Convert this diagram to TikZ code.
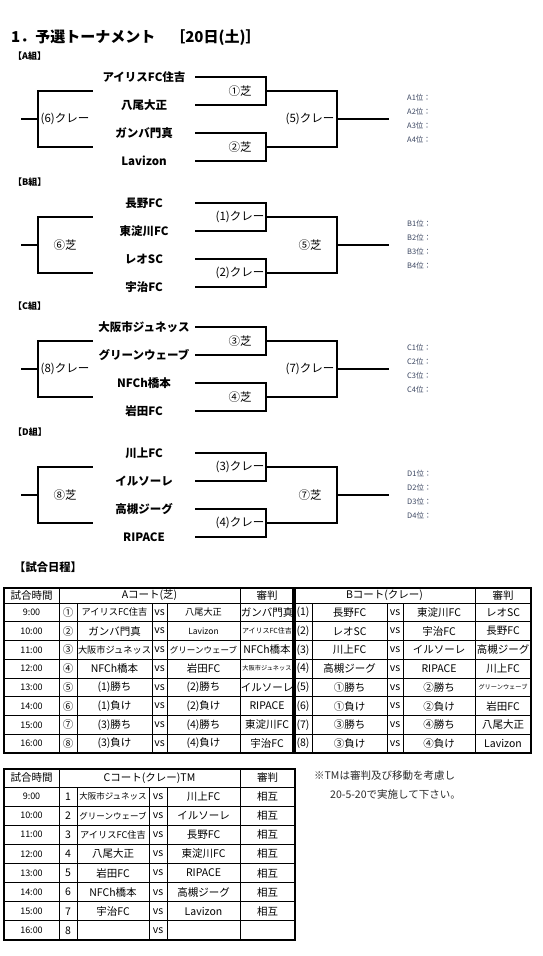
\documentclass[tikz,border=0pt]{standalone}
\usepackage{fontspec}
\setmainfont{Noto Sans CJK JP}
\usetikzlibrary{positioning}
\definecolor{rankgray}{HTML}{3A4560}
\definecolor{notegray}{HTML}{2A2A2A}
\newcommand{\fsnine}{\fontsize{9.2}{10}\selectfont}
\newcommand{\fseight}{\fontsize{8.5}{9}\selectfont}
\newcommand{\fsseven}{\fontsize{7}{8}\selectfont}
\newcommand{\fssix}{\fontsize{6.2}{7}\selectfont}
\tikzset{
  bline/.style={line width=2pt, line cap=rect},
  team/.style={font=\bfseries\fontsize{11.5}{12}\selectfont, inner sep=0pt},
  rnd/.style={font=\fontsize{11.5}{12}\selectfont, inner sep=0pt},
  rank/.style={font=\fontsize{7.5}{8}\selectfont, text=rankgray, inner sep=0pt, anchor=west},
  grouphead/.style={font=\bfseries\fontsize{9}{9}\selectfont, inner sep=0pt, anchor=west},
  maintitle/.style={font=\bfseries\fontsize{15}{15}\selectfont, inner sep=0pt, anchor=west},
  cell/.style={font=\fontsize{10.5}{11}\selectfont, inner sep=0pt},
  timecell/.style={font=\fontsize{9}{10}\selectfont, inner sep=0pt},
  gridline/.style={line width=0.9pt},
  frame/.style={line width=2.4pt},
  divline/.style={line width=4pt}
}
% one group of the bracket: letter, four teams, four round labels
\newcommand{\bracketgroup}[9]{%
  \node[grouphead] (#1head) at (13,56) {【#1組】};
  \node[team] (#1t1) at (144,77) {#2};
  \node[team] (#1t2) at (144,105) {#3};
  \node[team] (#1t3) at (144,133) {#4};
  \node[team] (#1t4) at (144,161) {#5};
  \coordinate (#1a1) at (196,77);
  \coordinate (#1a2) at (196,105);
  \coordinate (#1a3) at (196,133);
  \coordinate (#1a4) at (196,161);
  \coordinate (#1m1) at (266,91);
  \coordinate (#1m2) at (266,147);
  \coordinate (#1s) at (337,119);
  \coordinate (#1o) at (388,119);
  \coordinate (#1l1) at (92,91);
  \coordinate (#1l2) at (92,147);
  \coordinate (#1lv) at (38,119);
  \coordinate (#1lo) at (22,119);
  \draw[bline] (#1a1) -| (#1m1) |- (#1a2);
  \draw[bline] (#1a3) -| (#1m2) |- (#1a4);
  \draw[bline] (#1m1) -| (#1s) |- (#1m2);
  \draw[bline] (#1s) -- (#1o);
  \draw[bline] (#1l1) -| (#1lv) |- (#1l2);
  \draw[bline] (#1lo) -- (#1lv);
  \node[rnd] (#1r1) at (240,91) {#6};
  \node[rnd] (#1r2) at (240,147) {#7};
  \node[rnd] (#1r3) at (65,119) {#8};
  \node[rnd] (#1r4) at (310,119) {#9};
  \foreach \k in {1,...,4}
    \node[rank] (#1p\k) at (407,84+14*\k) {#1\k{}位：};
}

\begin{document}
\begin{tikzpicture}[x=1pt, y=-1pt]
\useasboundingbox (0,0) rectangle (542,956);

\node[maintitle] (title) at (11,38) {1．予選トーナメント　［20日(土)］};

\bracketgroup{A}{アイリスFC住吉}{八尾大正}{ガンバ門真}{Lavizon}{①芝}{②芝}{(6)クレー}{(5)クレー}
\begin{scope}[yshift=-126pt]
\bracketgroup{B}{長野FC}{東淀川FC}{レオSC}{宇治FC}{(1)クレー}{(2)クレー}{⑥芝}{⑤芝}
\end{scope}
\begin{scope}[yshift=-250pt]
\bracketgroup{C}{大阪市ジュネッス}{グリーンウェーブ}{NFCh橋本}{岩田FC}{③芝}{④芝}{(8)クレー}{(7)クレー}
\end{scope}
\begin{scope}[yshift=-376pt]
\bracketgroup{D}{川上FC}{イルソーレ}{高槻ジーグ}{RIPACE}{(3)クレー}{(4)クレー}{⑧芝}{⑦芝}
\end{scope}

\node[maintitle, font=\bfseries\fontsize{11.3}{12}\selectfont] (sched) at (14,567) {【試合日程】};

% A / B courts
\foreach \k in {1,...,7}
  \draw[gridline] (4,603+18.75*\k) -- (531,603+18.75*\k);
\draw[gridline] (4,603) -- (531,603);
\foreach \x in {59,240,475}
  \draw[gridline] (\x,588) -- (\x,753);
\foreach \x in {77,152,167,312,387,403}
  \draw[gridline] (\x,603) -- (\x,753);
\draw[divline] (294,588) -- (294,753);
\draw[frame] (4,588) rectangle (531,753);

\node[cell] (ah0) at (31.5,595.5) {試合時間};
\node[cell] (ah1) at (149.5,595.5) {Aコート(芝)};
\node[cell] (ah2) at (267,595.5) {審判};
\node[cell] (bh1) at (384.5,595.5) {Bコート(クレー)};
\node[cell] (bh2) at (503,595.5) {審判};

\foreach \tm/\na/\pa/\qa/\ja/\nb/\pb/\qb/\jb [count=\i] in {
  9:00/①/\fsnine アイリスFC住吉/\fsnine 八尾大正/ガンバ門真/(1)/長野FC/東淀川FC/レオSC,
  10:00/②/ガンバ門真/\fseight Lavizon/\fsseven アイリスFC住吉/(2)/レオSC/宇治FC/長野FC,
  11:00/③/\fsnine 大阪市ジュネッス/\fseight グリーンウェーブ/NFCh橋本/(3)/川上FC/イルソーレ/高槻ジーグ,
  12:00/④/NFCh橋本/岩田FC/\fssix 大阪市ジュネッス/(4)/高槻ジーグ/RIPACE/川上FC,
  13:00/⑤/(1)勝ち/(2)勝ち/イルソーレ/(5)/①勝ち/②勝ち/\fssix グリーンウェーブ,
  14:00/⑥/(1)負け/(2)負け/RIPACE/(6)/①負け/②負け/岩田FC,
  15:00/⑦/(3)勝ち/(4)勝ち/東淀川FC/(7)/③勝ち/④勝ち/八尾大正,
  16:00/⑧/(3)負け/(4)負け/宇治FC/(8)/③負け/④負け/Lavizon}
{
  \node[timecell] (at\i) at (31.5,593.6+18.75*\i) {\tm};
  \node[cell] (an\i) at (68,593.6+18.75*\i) {\na};
  \node[cell] (ap\i) at (114.5,593.6+18.75*\i) {\pa};
  \node[cell] (av\i) at (159.5,593.6+18.75*\i) {vs};
  \node[cell] (aq\i) at (203.5,593.6+18.75*\i) {\qa};
  \node[cell] (aj\i) at (267,593.6+18.75*\i) {\ja};
  \node[cell] (bn\i) at (303,593.6+18.75*\i) {\nb};
  \node[cell] (bp\i) at (349.5,593.6+18.75*\i) {\pb};
  \node[cell] (bv\i) at (395,593.6+18.75*\i) {vs};
  \node[cell] (bq\i) at (439,593.6+18.75*\i) {\qb};
  \node[cell] (bj\i) at (503,593.6+18.75*\i) {\jb};
}

% C court
\foreach \k in {0,...,7}
  \draw[gridline] (4,787+19.125*\k) -- (295,787+19.125*\k);
\foreach \x in {59,240}
  \draw[gridline] (\x,769) -- (\x,940);
\foreach \x in {77,149,167}
  \draw[gridline] (\x,787) -- (\x,940);
\draw[frame] (4,769) rectangle (295,940);

\node[cell] (ch0) at (31.5,778) {試合時間};
\node[cell] (ch1) at (149.5,778) {Cコート(クレー)TM};
\node[cell] (ch2) at (267.5,778) {審判};

\foreach \tm/\pc/\qc/\jc [count=\i] in {
  9:00/\fseight 大阪市ジュネッス/川上FC/相互,
  10:00/\fseight グリーンウェーブ/イルソーレ/相互,
  11:00/\fsnine アイリスFC住吉/長野FC/相互,
  12:00/八尾大正/東淀川FC/相互,
  13:00/岩田FC/RIPACE/相互,
  14:00/NFCh橋本/高槻ジーグ/相互,
  15:00/宇治FC/Lavizon/相互,
  16:00///}
{
  \node[timecell] (ct\i) at (31.5,777.4+19.125*\i) {\tm};
  \node[cell] (cn\i) at (68,777.4+19.125*\i) {\i};
  \node[cell] (cp\i) at (113,777.4+19.125*\i) {\pc};
  \node[cell] (cv\i) at (158,777.4+19.125*\i) {vs};
  \node[cell] (cq\i) at (203.5,777.4+19.125*\i) {\qc};
  \node[cell] (cj\i) at (267.5,777.4+19.125*\i) {\jc};
}

\node[cell, anchor=west, font=\fontsize{10.5}{11}\selectfont, text=notegray] (note1) at (314,776) {※TMは審判及び移動を考慮し};
\node[cell, anchor=west, font=\fontsize{10.5}{11}\selectfont, text=notegray] (note2) at (330,795) {20-5-20で実施して下さい。};
\end{tikzpicture}
\end{document}
